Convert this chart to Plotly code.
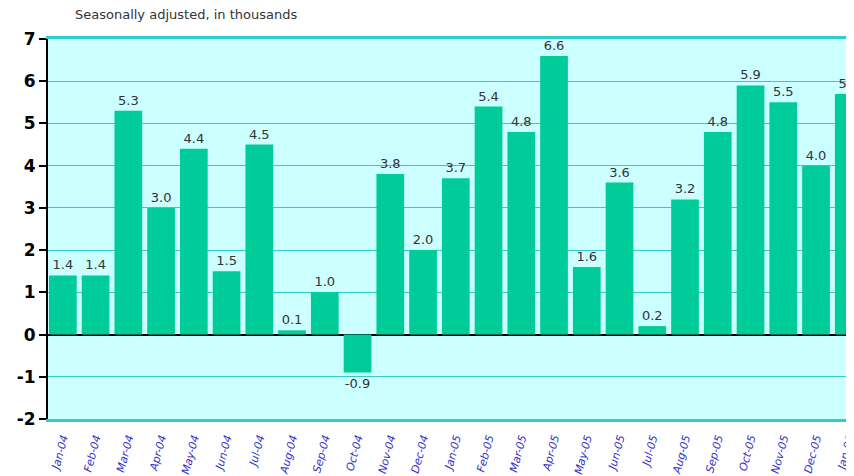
import plotly.graph_objects as go

months = ["Jan-04", "Feb-04", "Mar-04", "Apr-04", "May-04", "Jun-04", "Jul-04", "Aug-04",
          "Sep-04", "Oct-04", "Nov-04", "Dec-04", "Jan-05", "Feb-05", "Mar-05", "Apr-05",
          "May-05", "Jun-05", "Jul-05", "Aug-05", "Sep-05", "Oct-05", "Nov-05", "Dec-05", "Jan-06"]
values = [1.4, 1.4, 5.3, 3.0, 4.4, 1.5, 4.5, 0.1, 1.0, -0.9, 3.8, 2.0, 3.7, 5.4, 4.8, 6.6,
          1.6, 3.6, 0.2, 3.2, 4.8, 5.9, 5.5, 4.0, 5.7]
y_ticks = [-2, -1, 0, 1, 2, 3, 4, 5, 6, 7]
y_tick_labels = ["-2", "-1", "0", "1", "2", "3", "4", "5", "6", "7"]
subtitle = "Seasonally adjusted, in thousands"

fig = go.Figure(go.Bar(
    x=months, y=values,
    marker=dict(color="#00cc99", line=dict(width=0)),
    width=0.846,
    text=[f"{v:.1f}" for v in values],
    textposition="outside",
    textfont=dict(family="DejaVu Sans", size=13, color="#333333"),
    cliponaxis=False,
))

fig.update_layout(
    width=846, height=468,
    margin=dict(l=40, r=0, t=31, b=57, autoexpand=False),
    paper_bgcolor="white",
    plot_bgcolor="#ccffff",
    showlegend=False,
    xaxis=dict(
        type="category",
        range=[-0.453, 24.16],
        automargin=False,
        tickangle=-75,
        ticklabelstandoff=5,
        tickfont=dict(family="DejaVu Sans", size=11, color="#3333cc", style="italic"),
        showline=True, linecolor="#33cccc", linewidth=3, mirror=True,
        showgrid=False, ticks="",
    ),
    yaxis=dict(
        range=[-2, 7],
        automargin=False,
        tickvals=y_ticks, ticktext=y_tick_labels,
        tickfont=dict(family="DejaVu Sans", size=17, color="black", weight="bold"),
        showline=True, linecolor="black", linewidth=2,
        ticks="outside", ticklen=7, tickwidth=2, tickcolor="black",
        showgrid=True, gridcolor="#33cccc", gridwidth=1,
        zeroline=True, zerolinecolor="black", zerolinewidth=2,
    ),
    annotations=[dict(
        text=subtitle, xref="paper", yref="paper", x=(73 - 48) / 806, y=1,
        xanchor="left", yanchor="middle", yshift=25, showarrow=False,
        font=dict(family="DejaVu Sans", size=13, color="#333333"),
    )],
)

fig.write_html("out.html")
